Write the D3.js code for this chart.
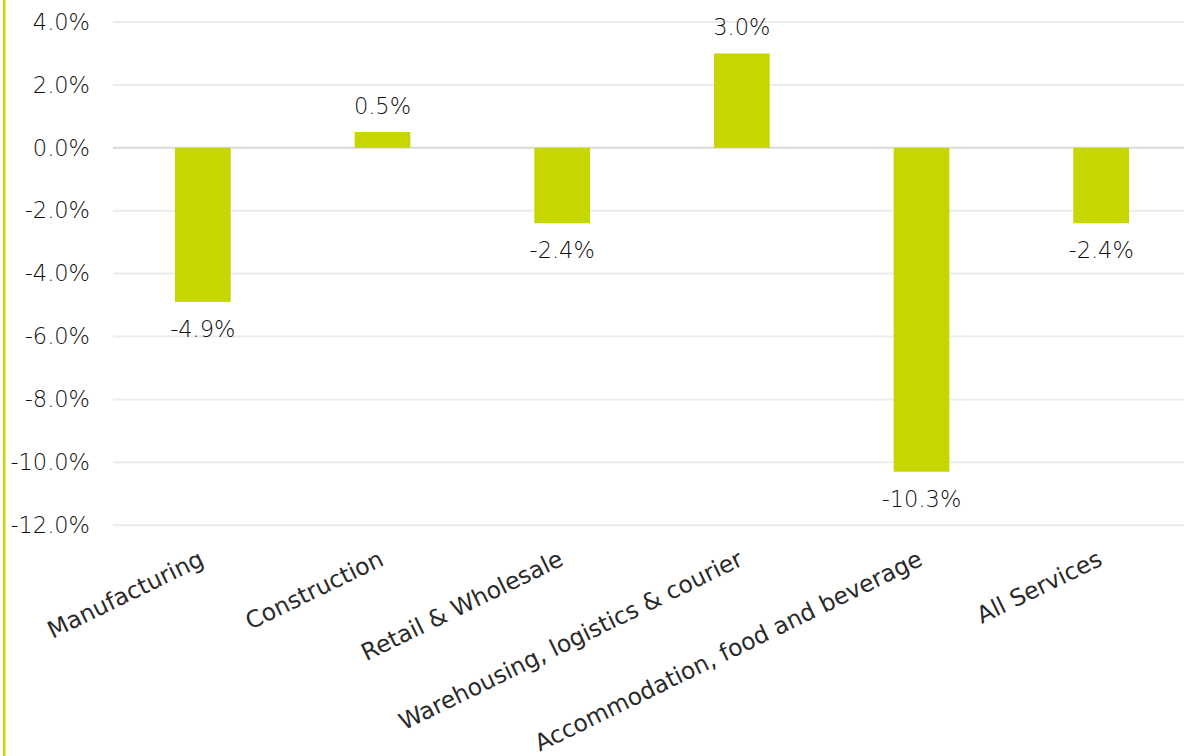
<!DOCTYPE html>
<html>
<head>
<meta charset="utf-8">
<script src="https://cdn.jsdelivr.net/npm/d3@7"></script>
<style>
  html, body { margin: 0; padding: 0; background: #fff; }
  svg { display: block; }
  .num { font-family: "DejaVu Sans", sans-serif; font-weight: 200; font-size: 22.5px; fill: #111; }
  .cat { font-family: "DejaVu Sans", Verdana, sans-serif; font-size: 23.5px; fill: #2a2a2a; }
</style>
</head>
<body>
<svg id="chart" width="1184" height="756"></svg>
<script>
// Change by sector, in percent
const categories = [
  "Manufacturing",
  "Construction",
  "Retail & Wholesale",
  "Warehousing, logistics & courier",
  "Accommodation, food and beverage",
  "All Services"
];
const values = [-4.9, 0.5, -2.4, 3.0, -10.3, -2.4];
const yTicks = [4, 2, 0, -2, -4, -6, -8, -10, -12];

const W = 1184, H = 756;
const svg = d3.select("#chart");

const x = d3.scaleBand()
  .domain(categories)
  .range([113, 1191])
  .paddingInner(0.69)
  .paddingOuter(0.345);

const y = d3.scaleLinear()
  .domain([-12, 4])
  .range([525.2, 22]);

const fmt = v => v.toFixed(1) + "%";

// left border
svg.append("rect")
  .attr("x", 3).attr("y", 0)
  .attr("width", 2.5).attr("height", H)
  .attr("fill", "#c6d600");

// gridlines
svg.append("g")
  .selectAll("line")
  .data(yTicks)
  .join("line")
  .attr("x1", 113).attr("x2", W)
  .attr("y1", d => y(d)).attr("y2", d => y(d))
  .attr("stroke", d => d === 0 ? "#d9d9d9" : "#ececec")
  .attr("stroke-width", 2);

// y axis labels
const yAxis = d3.axisLeft(y)
  .tickValues(yTicks)
  .tickFormat(fmt)
  .tickSize(0)
  .tickPadding(0);

const gy = svg.append("g")
  .attr("transform", "translate(90,0)")
  .call(yAxis)
  .attr("font-family", null)
  .attr("font-size", null);
gy.select(".domain").remove();
gy.selectAll("text").attr("class", "num").attr("fill", null);

// bars
svg.append("g")
  .selectAll("rect")
  .data(values)
  .join("rect")
  .attr("x", (d, i) => x(categories[i]))
  .attr("width", x.bandwidth())
  .attr("y", d => y(Math.max(0, d)))
  .attr("height", d => Math.abs(y(d) - y(0)))
  .attr("fill", "#c6d600");

// value labels
svg.append("g")
  .selectAll("text")
  .data(values)
  .join("text")
  .attr("class", "num")
  .attr("x", (d, i) => x(categories[i]) + x.bandwidth() / 2)
  .attr("y", d => d >= 0 ? y(d) - 26 : y(d) + 27)
  .attr("dy", "0.35em")
  .attr("text-anchor", "middle")
  .text(fmt);

// category labels
const xAxis = d3.axisBottom(x).tickSize(0).tickPadding(0);
const gx = svg.append("g")
  .attr("transform", "translate(0,557)")
  .call(xAxis)
  .attr("font-family", null)
  .attr("font-size", null);
gx.select(".domain").remove();
gx.selectAll("text")
  .attr("class", "cat")
  .attr("fill", null)
  .attr("text-anchor", "end")
  .attr("dy", "0.35em")
  .attr("transform", "translate(-1,0) rotate(-26)");
</script>
</body>
</html>
